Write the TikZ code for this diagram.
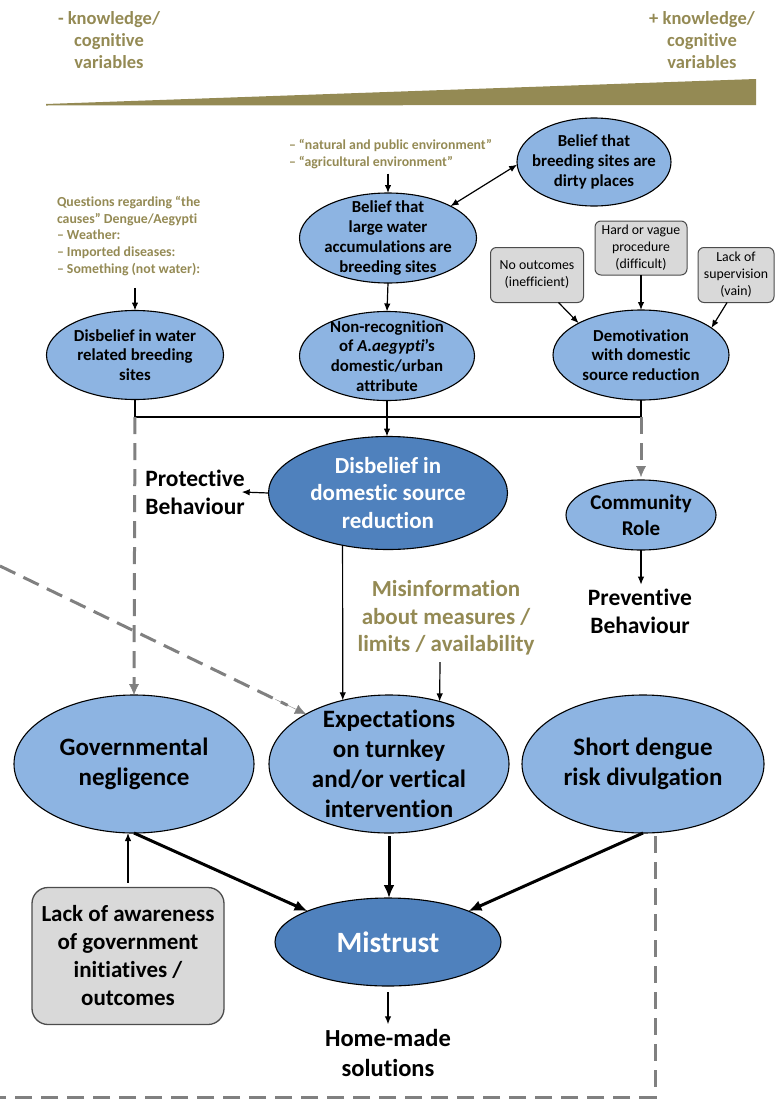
\documentclass[tikz,border=0pt]{standalone}
\usepackage{fontspec}
\setmainfont{Carlito}[Ligatures=NoCommon]
\usetikzlibrary{shapes.geometric,arrows.meta,calc}
\definecolor{lightblue}{RGB}{141,180,226}
\definecolor{darkblue}{RGB}{79,129,189}
\definecolor{olivetext}{RGB}{148,138,84}
\definecolor{boxgray}{RGB}{217,217,217}
\definecolor{dashgray}{RGB}{128,128,128}
\newcommand{\fsz}[2]{\fontsize{#1}{#2}\selectfont}

\begin{document}
\begin{tikzpicture}[x=1pt,y=-1pt,
  every node/.style={inner sep=0pt, outer sep=0pt},
  ell/.style={ellipse, draw=black, line width=1.1pt, fill=lightblue},
  darkell/.style={ellipse, draw=black, line width=1.1pt, fill=darkblue},
  smalllab/.style={align=center, font=\bfseries\fsz{16.8}{19.7}},
  biglab/.style={align=center, font=\bfseries\fsz{25}{30}},
  whitelab/.style={align=center, text=white, font=\bfseries\fsz{23}{27.5}},
  graybox/.style={rectangle, rounded corners=6pt, draw=black!70, line width=1pt, fill=boxgray, align=center, font=\fsz{13.8}{17}},
  plaintext/.style={align=center, font=\bfseries\fsz{23.5}{28}},
  olivesmall/.style={align=left, text=olivetext, font=\bfseries\fsz{13.8}{16.8}},
  conn/.style={-{Latex[length=8pt,width=6.5pt]}, line width=1.2pt},
  bothconn/.style={{Latex[length=8pt,width=6.5pt]}-{Latex[length=8pt,width=6.5pt]}, line width=1.2pt},
  thickconn/.style={-{Latex[length=13pt,width=11pt]}, line width=3pt},
  dashconn/.style={draw=dashgray, line width=3pt, dash pattern=on 17pt off 9pt},
  dashtip/.style={-{Latex[length=11pt,width=10pt]}, dashgray}
]
\useasboundingbox (0,0) rectangle (784,1100);

% knowledge gradient
\node[align=center, text=olivetext, font=\bfseries\fsz{18.5}{22}] (lessknow) at (109,40) {- knowledge/\\cognitive\\variables};
\node[align=center, text=olivetext, font=\bfseries\fsz{18.5}{22}] (moreknow) at (702,40) {+ knowledge/\\cognitive\\variables};
\fill[olivetext] (46,104) -- (756,79) -- (756,105) -- (46,105.5) -- cycle;

% upper row of beliefs
\node[ell, minimum width=154, minimum height=88,
  label={[smalllab]center:{Belief that\\breeding sites are\\dirty places}}] (dirty) at (594,162) {};
\node[ell, minimum width=177, minimum height=90,
  label={[smalllab]center:{Belief that\\large water\\accumulations are\\breeding sites}}] (large) at (388,238) {};
\node[olivesmall, anchor=west] (envtext) at (289,154) {– “natural and public environment”\\– “agricultural environment”};
\node[olivesmall, anchor=west] (causes) at (57,236) {Questions regarding “the\\causes” Dengue/Aegypti\\– Weather:\\– Imported diseases:\\– Something (not water):};

\node[ell, minimum width=177, minimum height=89,
  label={[smalllab]center:{Disbelief in water\\related breeding\\sites}}] (water) at (135,355) {};
\node[ell, minimum width=175, minimum height=89,
  label={[smalllab]center:{Non-recognition\\of \textit{A.aegypti}’s\\domestic/urban\\attribute}}] (nonrec) at (387,356) {};
\node[ell, minimum width=176, minimum height=90,
  label={[smalllab]center:{Demotivation\\with domestic\\source reduction}}] (demot) at (641,355) {};

\node[graybox, minimum width=93, minimum height=55] (noout) at (537,275) {No outcomes\\(inefficient)};
\node[graybox, minimum width=92, minimum height=54] (hard) at (641,248) {Hard or vague\\procedure\\(difficult)};
\node[graybox, minimum width=76, minimum height=55] (lacksup) at (736,275) {Lack of\\supervision\\(vain)};

\draw[conn] (envtext.south -| large.north) ++(0,5) -- (large.north);
\draw[bothconn] (large.27) -- (dirty.182);
\draw[conn] (large.south) -- (nonrec.north);
\draw[conn] (causes.south -| water.north) ++(0,12) -- (water.north);
\draw[conn] (noout.-52) -- (demot.153);
\draw[conn] (hard.south) -- (demot.north);
\draw[conn] (lacksup.-108) -- (demot.21);

% junction line under the upper row
\coordinate (jl) at (135,417);
\coordinate (jr) at (641,417);
\draw[line width=1.2pt] (water.south) -- (jl) -- (jr) -- (demot.south);

% middle level
\node[darkell, minimum width=239, minimum height=113,
  label={[whitelab]center:{Disbelief in\\domestic source\\reduction}}] (domestic) at (388,493) {};
\draw[conn] (nonrec.south) -- (nonrec.south |- domestic.north);
\node[plaintext] (protect) at (195,492) {Protective\\Behaviour};
\draw[conn] (domestic.west) -- ([xshift=-3]protect.east);

\node[ell, minimum width=150, minimum height=70,
  label={[align=center, font=\bfseries\fsz{21}{26}]center:{Community\\Role}}] (community) at (641,515) {};
\node[plaintext] (prevent) at (640,611) {Preventive\\Behaviour};
\draw[conn] (community.south) -- ([yshift=4]community.south |- prevent.north);

\node[plaintext, text=olivetext, font=\bfseries\fsz{23}{27.5}] (misinfo) at (446,618) {Misinformation\\about measures /\\limits / availability};

% lower row
\node[ell, minimum width=240, minimum height=138,
  label={[biglab]center:{Governmental\\negligence}}] (govern) at (134,764) {};
\node[ell, minimum width=240, minimum height=138,
  label={[biglab]center:{Expectations\\on turnkey\\and/or vertical\\intervention}}] (expect) at (389,764) {};
\node[ell, minimum width=242, minimum height=138,
  label={[biglab]center:{Short dengue\\risk divulgation}}] (short) at (643,764) {};

\draw[conn] (domestic.229) -- (expect.126);
\coordinate (mi) at (440,662);
\draw[conn] (mi) -- (expect.51);

% dashed influences
\draw[dashconn] (jl) -- ([yshift=10]govern.north);
\draw[dashtip] ([yshift=12]govern.north) -- (govern.north);
\draw[dashconn] (jr) -- ([yshift=10]community.north);
\draw[dashtip] ([yshift=12]community.north) -- ([yshift=3]community.north);
\coordinate (diagstart) at (0,566);
\draw[dashconn] (diagstart) -- ($(diagstart)!0.94!(expect.149)$);
\draw[dashtip] ($(diagstart)!0.9!(expect.149)$) -- (expect.149);

% mistrust and outcomes
\node[darkell, minimum width=226, minimum height=88,
  label={[text=white, font=\bfseries\fsz{29.5}{32}]center:{Mistrust}}] (mistrust) at (388,942) {};
\draw[thickconn] (govern.south) -- (mistrust.159);
\draw[thickconn] ([yshift=-3]expect.south) -- (expect.south |- mistrust.north);
\draw[thickconn] (short.south) -- (mistrust.21);

\node[rectangle, rounded corners=16pt, draw=black!70, line width=1.3pt, fill=boxgray,
  minimum width=192, minimum height=137, align=center, font=\bfseries\fsz{23}{28}] (lackaw) at (128,956)
  {Lack of awareness\\of government\\initiatives /\\outcomes};
\draw[conn] ([yshift=5]lackaw.north) -- (lackaw.north |- govern.south);

\node[plaintext, font=\bfseries\fsz{24.5}{30}] (home) at (388,1053) {Home-made\\solutions};
\draw[conn] ([yshift=-6]mistrust.south) -- ([yshift=5]home.north);

% dashed frame
\coordinate (b1) at (655,836);
\coordinate (b2) at (655,1097);
\coordinate (b3) at (0,1097);
\draw[dashconn] (b1) -- (b2) -- (b3);
\end{tikzpicture}
\end{document}
